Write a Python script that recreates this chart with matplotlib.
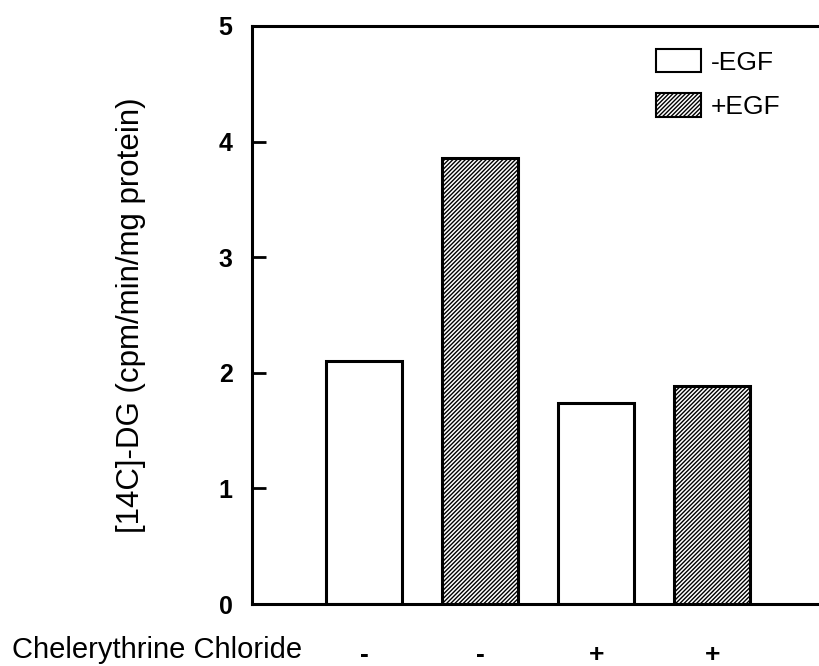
import matplotlib.pyplot as plt

plt.rcParams['font.family'] = ['Liberation Sans', 'DejaVu Sans']
plt.rcParams['hatch.linewidth'] = 1.0

# data
groups = ['-EGF', '+EGF', '-EGF', '+EGF']
uptake = [2.1, 3.86, 1.74, 1.89]
chel_labels = ['-', '-', '+', '+']
legend_labels = ['-EGF', '+EGF']

fig = plt.figure(figsize=(8.19, 6.66), dpi=100)
ax = fig.add_axes([0.3077, 0.093, 0.6923, 0.868])

xs = list(range(len(uptake)))
for x, v, g in zip(xs, uptake, groups):
    if g == '-EGF':
        ax.bar(x, v, width=0.655, color='white', edgecolor='black', linewidth=2.2)
    else:
        ax.bar(x, v, width=0.655, color='white', edgecolor='black', linewidth=2.2,
               hatch='////////')

ax.set_xlim(-0.966, 3.92)
ax.set_ylim(0, 5)
ax.set_yticks([0, 1, 2, 3, 4, 5])
ax.set_xticks(xs)
ax.set_xticklabels(chel_labels, fontsize=19, fontweight='bold')
ax.tick_params(axis='x', length=0, pad=28)
ax.tick_params(axis='y', direction='in', length=10, width=2, labelsize=18, pad=14)
for lbl in ax.get_yticklabels():
    lbl.set_fontweight('bold')

for s in ['left', 'top', 'bottom']:
    ax.spines[s].set_linewidth(2.2)
ax.spines['right'].set_visible(False)

ax.set_ylabel('[14C]-DG (cpm/min/mg protein)', fontsize=22.5, labelpad=52)
fig.text(0.015, 1 - 650 / 666, 'Chelerythrine Chloride', fontsize=21,
         va='center', ha='left')

# legend boxes
h1 = plt.Rectangle((0, 0), 1, 1, facecolor='white', edgecolor='black', linewidth=1.5)
h2 = plt.Rectangle((0, 0), 1, 1, facecolor='white', edgecolor='black', linewidth=1.5,
                   hatch='////////')
ax.legend([h1, h2], legend_labels, loc='upper left', bbox_to_anchor=(632 / 819, 1 - 25 / 666),
          bbox_transform=fig.transFigure, frameon=False, fontsize=19,
          handlelength=1.7, handleheight=1.0, handletextpad=0.4, labelspacing=0.7)

fig.savefig('out.png', dpi=100)
